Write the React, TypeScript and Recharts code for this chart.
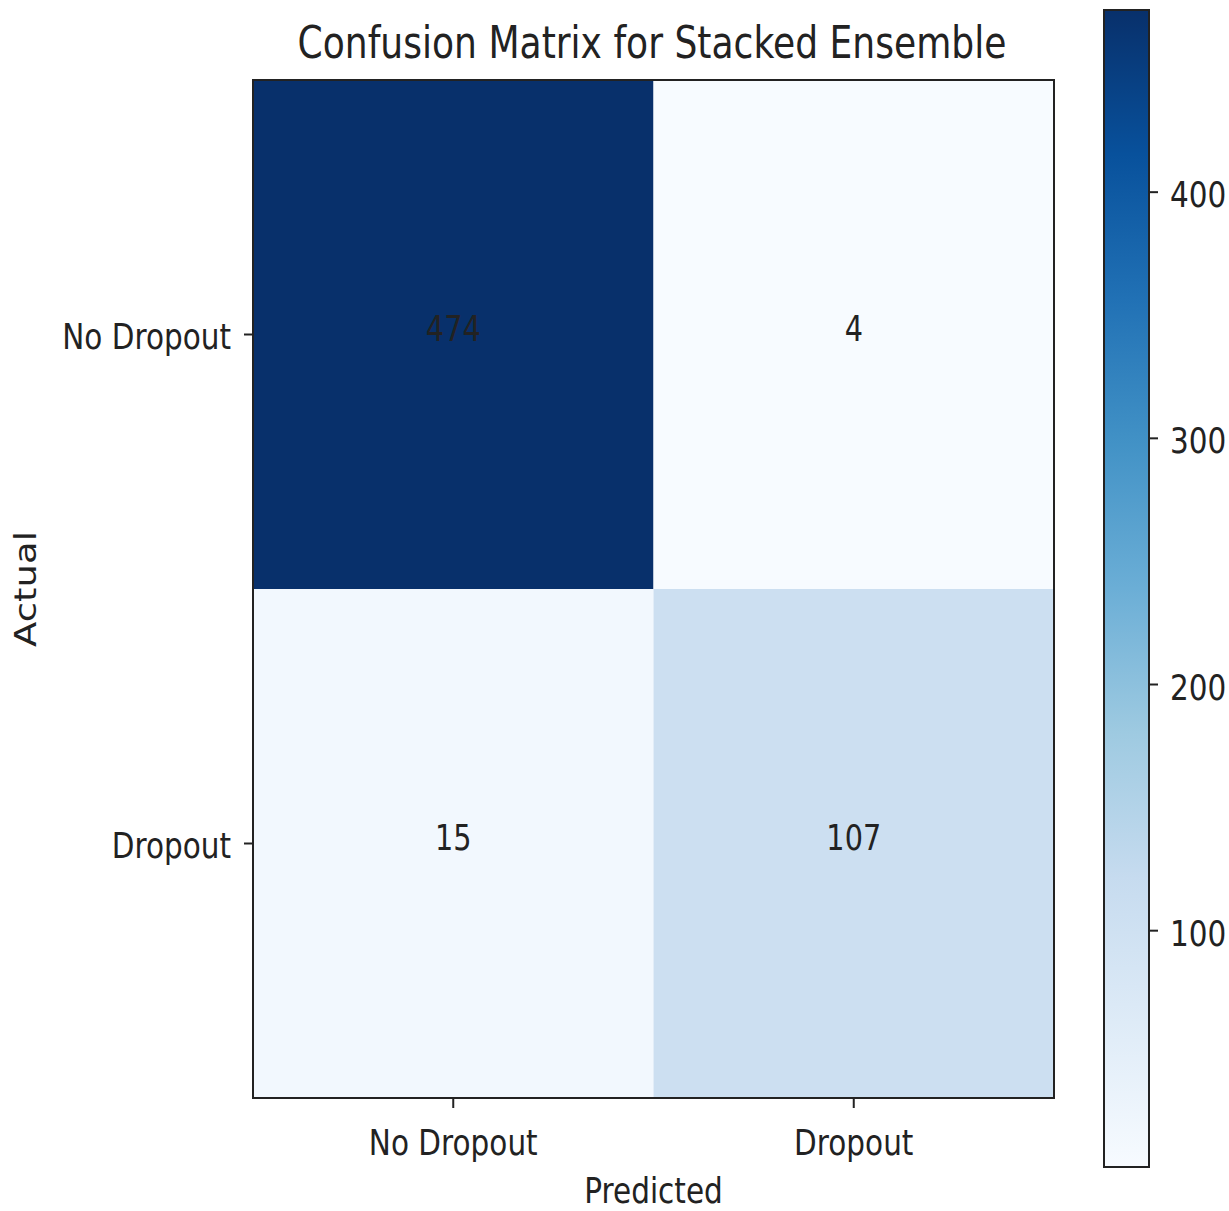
import React from 'react';
import { ComposedChart, XAxis, YAxis, ReferenceArea, Scatter, Customized } from 'recharts';

// ---- data ----
const classLabels = ['No Dropout', 'Dropout'];
const actualRows = [0, 1];
const predictedCols = [0, 1];
const rowNoDropout = [474, 4];
const rowDropout = [15, 107];
const colorbarTicks = [100, 200, 300, 400];
const titleText = 'Confusion Matrix for Stacked Ensemble';
const xLabelText = 'Predicted';
const yLabelText = 'Actual';

const BLUES = ['#f7fbff', '#deebf7', '#c6dbef', '#9ecae1', '#6baed6', '#4292c6', '#2171b5', '#08519c', '#08306b'];

const matrix = [rowNoDropout, rowDropout];
const cells = actualRows.flatMap((r) => predictedCols.map((c) => ({ r, c, v: matrix[r][c] })));
const allValues = cells.map((d) => d.v);
const vmin = Math.min(...allValues);
const vmax = Math.max(...allValues);

function hexToRgb(h: string) {
  const n = parseInt(h.slice(1), 16);
  return [(n >> 16) & 255, (n >> 8) & 255, n & 255];
}
function bluesColor(v: number) {
  const t = Math.max(0, Math.min(1, (v - vmin) / (vmax - vmin)));
  const p = t * (BLUES.length - 1);
  const i = Math.min(BLUES.length - 2, Math.floor(p));
  const f = p - i;
  const a = hexToRgb(BLUES[i]);
  const b = hexToRgb(BLUES[i + 1]);
  const c = a.map((x, k) => Math.round(x + (b[k] - x) * f));
  return `rgb(${c[0]},${c[1]},${c[2]})`;
}

// ---- style ----
const W = 1229;
const H = 1211;
const SX = 0.82;
const FONT = '"DejaVu Sans", Verdana, sans-serif';
const INK = '#222';

function SText({ x, y, text, size, anchor = 'middle', vertical = false }: any) {
  const tf = vertical
    ? `translate(${x},${y}) rotate(-90) scale(1,${SX})`
    : `translate(${x},${y}) scale(${SX},1)`;
  return (
    <text transform={tf} textAnchor={anchor} fontFamily={FONT} fontSize={size} fill={INK}>
      {text}
    </text>
  );
}

const XTick = (p: any) => (
  <SText x={p.x} y={p.y + 27} text={classLabels[p.payload.value]} size={36} />
);
const YTick = (p: any) => (
  <SText x={p.x} y={p.y + 14} text={classLabels[p.payload.value]} size={36} anchor="end" />
);
const CbTick = (p: any) => (
  <SText x={p.x} y={p.y + 15} text={String(p.payload.value)} size={36} anchor="start" />
);

const Title = () => <SText x={652} y={58} text={titleText} size={44} />;

export default function App() {
  return (
    <div style={{ position: 'absolute', left: 0, top: 0, width: W, height: H, background: '#fff' }}>
      <svg width={0} height={0} style={{ position: 'absolute' }}>
        <defs>
          <linearGradient id="bluesGrad" x1="0" y1="0" x2="0" y2="1">
            {BLUES.map((col, i) => (
              <stop key={i} offset={`${(i / (BLUES.length - 1)) * 100}%`} stopColor={BLUES[BLUES.length - 1 - i]} />
            ))}
          </linearGradient>
        </defs>
      </svg>

      <div style={{ position: 'absolute', left: 0, top: 0 }}>
        <ComposedChart width={W} height={H} margin={{ top: 80, right: 175, bottom: 0, left: 0 }} data={cells}>
          <XAxis
            type="number"
            dataKey="c"
            domain={[-0.5, 1.5]}
            ticks={predictedCols}
            allowDataOverflow
            interval={0}
            height={113}
            tickSize={10}
            tickMargin={20}
            axisLine={false}
            tickLine={{ stroke: INK, strokeWidth: 2 }}
            tick={XTick}
            label={{
              value: xLabelText,
              content: (lp: any) => (
                <SText x={lp.viewBox.x + lp.viewBox.width / 2} y={1203} text={xLabelText} size={36} />
              ),
            }}
          />
          <YAxis
            type="number"
            dataKey="r"
            domain={[-0.5, 1.5]}
            reversed
            ticks={actualRows}
            allowDataOverflow
            interval={0}
            width={253}
            tickSize={9}
            tickMargin={13}
            axisLine={false}
            tickLine={{ stroke: INK, strokeWidth: 2 }}
            tick={YTick}
            label={{
              value: yLabelText,
              content: (lp: any) => (
                <SText x={36} y={lp.viewBox.y + lp.viewBox.height / 2} text={yLabelText} size={37} vertical />
              ),
            }}
          />
          <Scatter data={cells} dataKey="r" isAnimationActive={false} shape={() => <g />} />
          {cells.map((d) => (
            <ReferenceArea
              key={`${d.r}-${d.c}`}
              x1={d.c - 0.5}
              x2={d.c + 0.5}
              y1={d.r - 0.5}
              y2={d.r + 0.5}
              fill={bluesColor(d.v)}
              fillOpacity={1}
              stroke="none"
              ifOverflow="visible"
              label={{
                value: d.v,
                content: (lp: any) => (
                  <SText
                    x={lp.viewBox.x + lp.viewBox.width / 2}
                    y={lp.viewBox.y + lp.viewBox.height / 2 + 6}
                    text={String(d.v)}
                    size={35}
                  />
                ),
              }}
            />
          ))}
          <ReferenceArea
            x1={-0.5}
            x2={1.5}
            y1={-0.5}
            y2={1.5}
            fill="none"
            fillOpacity={0}
            stroke={INK}
            strokeWidth={2}
            ifOverflow="visible"
          />
          <Customized component={Title} />
        </ComposedChart>
      </div>

      <div style={{ position: 'absolute', left: 0, top: 0 }}>
        <ComposedChart width={W} height={H} margin={{ top: 10, right: 0, bottom: 44, left: 1104 }}>
          <XAxis type="number" dataKey="x" domain={[0, 1]} hide allowDataOverflow />
          <YAxis
            type="number"
            orientation="right"
            domain={[vmin, vmax]}
            ticks={colorbarTicks}
            allowDataOverflow
            interval={0}
            width={80}
            tickSize={9}
            tickMargin={12}
            axisLine={false}
            tickLine={{ stroke: INK, strokeWidth: 2 }}
            tick={CbTick}
          />
          <ReferenceArea
            x1={0}
            x2={1}
            y1={vmin}
            y2={vmax}
            fill="url(#bluesGrad)"
            fillOpacity={1}
            stroke={INK}
            strokeWidth={2}
            ifOverflow="visible"
          />
        </ComposedChart>
      </div>
    </div>
  );
}
